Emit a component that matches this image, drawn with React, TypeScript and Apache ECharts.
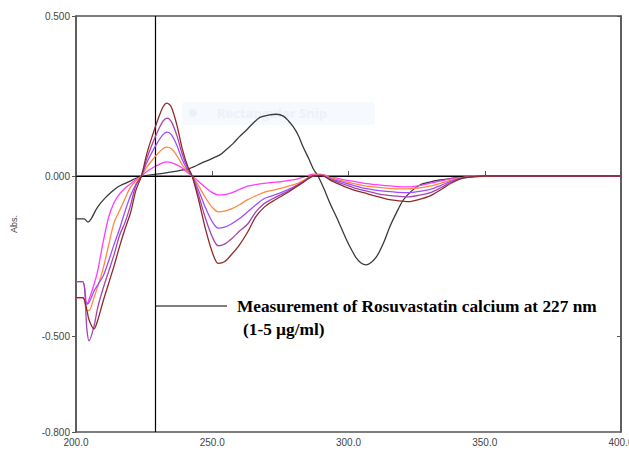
import React, { useEffect, useRef } from "react";
import * as echarts from "echarts";

// Wavelength grid (nm) for the five concentration curves
const wavelengths = [200, 202.5, 204, 204.8, 206.6, 208, 210, 212, 214, 216, 218, 220, 222, 224,
  226, 228, 230, 232, 233.4, 235, 237, 239, 241, 242.6, 245, 247.5, 250, 252.2,
  254.5, 257, 260, 263, 266, 269, 272, 275, 278, 281, 284, 287, 290,
  294, 298, 302, 306, 310, 314, 318, 322, 326, 330, 334, 338, 342, 346, 350,
  360, 370, 380, 390, 400];

const conc1 = [-0.38, -0.38, -0.40, -0.385, -0.34, -0.294, -0.205, -0.128, -0.083, -0.056, -0.038, -0.024, -0.011, 0,
  0.014, 0.025, 0.034, 0.042, 0.044, 0.042, 0.035, 0.025, 0.01, 0, -0.017, -0.036, -0.052, -0.059,
  -0.058, -0.053, -0.042, -0.032, -0.027, -0.023, -0.02, -0.018, -0.014, -0.01, -0.002, 0.006, 0.005,
  -0.003, -0.011, -0.017, -0.023, -0.027, -0.03, -0.033, -0.034, -0.03, -0.022, -0.015, -0.008, -0.003, -0.001, 0,
  0.001, -0.001, 0, 0, 0];

const conc2 = [-0.38, -0.38, -0.42, -0.42, -0.38, -0.345, -0.288, -0.215, -0.145, -0.108, -0.07, -0.035, -0.015, 0,
  0.028, 0.05, 0.07, 0.086, 0.09, 0.085, 0.064, 0.035, 0.013, 0, -0.031, -0.068, -0.098, -0.112,
  -0.11, -0.103, -0.09, -0.074, -0.062, -0.051, -0.045, -0.039, -0.032, -0.024, -0.011, 0.003, 0.004,
  -0.007, -0.016, -0.024, -0.031, -0.035, -0.038, -0.04, -0.04, -0.037, -0.032, -0.022, -0.012, -0.004, -0.001, 0,
  0, 0, 0, 0, 0];

const conc3 = [-0.33, -0.33, -0.40, -0.395, -0.36, -0.34, -0.312, -0.265, -0.213, -0.165, -0.11, -0.062, -0.026, 0,
  0.042, 0.076, 0.106, 0.13, 0.137, 0.129, 0.096, 0.051, 0.018, 0, -0.045, -0.099, -0.143, -0.163,
  -0.16, -0.15, -0.133, -0.112, -0.09, -0.071, -0.062, -0.053, -0.042, -0.029, -0.014, 0.001, 0.003,
  -0.01, -0.02, -0.03, -0.039, -0.044, -0.048, -0.051, -0.052, -0.048, -0.042, -0.029, -0.015, -0.005, -0.001, 0,
  0, 0, 0, 0, 0];

const conc4 = [-0.33, -0.33, -0.48, -0.515, -0.47, -0.41, -0.35, -0.298, -0.245, -0.185, -0.145, -0.092, -0.028, 0,
  0.055, 0.1, 0.14, 0.172, 0.181, 0.17, 0.127, 0.068, 0.024, 0, -0.06, -0.132, -0.19, -0.218,
  -0.213, -0.197, -0.172, -0.15, -0.112, -0.087, -0.072, -0.059, -0.046, -0.031, -0.015, 0, 0.002,
  -0.013, -0.025, -0.037, -0.046, -0.054, -0.06, -0.063, -0.065, -0.06, -0.052, -0.036, -0.018, -0.006, -0.002, 0,
  0, 0, 0, 0, 0];

const conc5 = [-0.38, -0.38, -0.42, -0.45, -0.478, -0.45, -0.39, -0.335, -0.28, -0.22, -0.165, -0.115, -0.044, 0,
  0.07, 0.125, 0.175, 0.217, 0.228, 0.215, 0.16, 0.085, 0.03, 0, -0.075, -0.165, -0.238, -0.273,
  -0.268, -0.246, -0.215, -0.175, -0.127, -0.098, -0.08, -0.065, -0.05, -0.033, -0.016, 0, 0.001,
  -0.016, -0.031, -0.044, -0.053, -0.063, -0.072, -0.077, -0.08, -0.073, -0.062, -0.042, -0.021, -0.007, -0.002, 0,
  0, 0, 0, 0, 0];

// Black reference spectrum
const blackWl = [200, 203, 204.4, 205.5, 207.3, 209, 211, 213, 214.7, 216.5, 218.3, 220, 222, 224.5,
  228, 233, 238, 241.8, 246, 249.5, 252.8, 255.2, 257.7, 260, 262.6, 265, 267.5, 270.5, 273.6, 276.1,
  278, 279.7, 281.5, 283.4, 285.3, 287.1, 288.8, 291, 293.2, 296.2, 299.3, 301.2, 302.9, 304.6, 306.4,
  308.3, 310.3, 312.8, 315.2, 317.7, 320.1, 323, 326.2, 329.8, 333.6, 337.3, 341, 346, 350, 360, 370, 380, 390, 400];
const blackVals = [-0.134, -0.134, -0.144, -0.135, -0.106, -0.085, -0.066, -0.05, -0.038, -0.029, -0.022, -0.015, -0.007, 0,
  0.004, 0.01, 0.017, 0.024, 0.04, 0.053, 0.066, 0.083, 0.102, 0.123, 0.144, 0.165, 0.183, 0.19, 0.193, 0.187,
  0.172, 0.154, 0.128, 0.09, 0.056, 0.022, 0, -0.04, -0.085, -0.14, -0.2, -0.232, -0.257, -0.272, -0.278,
  -0.27, -0.252, -0.21, -0.158, -0.113, -0.075, -0.048, -0.028, -0.019, -0.0125, -0.008, -0.004, -0.002, -0.001, 0, 0, 0, 0, 0];

const yTicks = [0.5, 0, -0.5, -0.8];
const markWavelength = 229;
const seriesColors = ["#ff3cff", "#ff8a3c", "#9d4dff", "#a444b4", "#8e2a2a"];
const concSeries = [conc1, conc2, conc3, conc4, conc5];

const zip = (xs: number[], ys: number[]) => xs.map((x, i) => [x, ys[i]]);

export default function App() {
  const ref = useRef<HTMLDivElement>(null);
  useEffect(() => {
    if (!ref.current) return;
    const chart = echarts.init(ref.current, null, { renderer: "svg" });
    const axisColor = "#555";
    const labelFont = "'Liberation Sans', Arial, sans-serif";
    const serifFont = "'Liberation Serif', 'Times New Roman', serif";
    const option: any = {
      animation: false,
      backgroundColor: "#ffffff",
      grid: {
        left: 76, right: 8, top: 16, bottom: 21,
        outerBoundsMode: "none", containLabel: false,
        show: true, borderColor: axisColor, borderWidth: 1.5,
      },
      xAxis: {
        type: "value", min: 200, max: 400, interval: 50,
        axisLine: { show: true, lineStyle: { color: axisColor, width: 1.5 } },
        axisTick: { show: true, inside: true, length: 5, lineStyle: { color: axisColor } },
        axisLabel: { formatter: (v: number) => v.toFixed(1), fontSize: 10, color: "#444", margin: 5, fontFamily: labelFont },
        splitLine: { show: false },
        name: "nm", nameLocation: "middle", nameGap: 20,
        nameTextStyle: { fontSize: 8, color: "#444", fontFamily: labelFont },
      },
      yAxis: [
        {
          type: "value", min: -0.8, max: 0.5,
          axisLine: { show: true, lineStyle: { color: axisColor, width: 1.5 } },
          axisTick: { show: true, length: 4, customValues: yTicks, lineStyle: { color: axisColor } },
          axisLabel: { customValues: yTicks, formatter: (v: number) => v.toFixed(3), fontSize: 10, color: "#444", margin: 6, fontFamily: labelFont },
          splitLine: { show: false },
          name: "Abs.", nameLocation: "middle", nameGap: 58, nameRotate: 90,
          nameTextStyle: { fontSize: 9, color: "#444", fontFamily: labelFont },
        },
        {
          type: "value", min: -0.8, max: 0.5, position: "right",
          axisLine: { show: true, lineStyle: { color: axisColor, width: 1.5 } },
          axisTick: { show: true, inside: true, length: 4, customValues: [0.5, 0, -0.5], lineStyle: { color: axisColor } },
          axisLabel: { show: false },
          splitLine: { show: false },
        },
      ],
      graphic: [
        { type: "rect", z: 0, shape: { x: 182, y: 102, width: 193, height: 23, r: 3 }, style: { fill: "#f6f9fe" } },
        { type: "circle", z: 0, shape: { cx: 193, cy: 113, r: 4 }, style: { fill: "#edf1f7" } },
        { type: "text", z: 0, x: 217, y: 113, style: { text: "Rectangular Snip", fontSize: 13, fontWeight: "bold", fill: "#eef1f6", verticalAlign: "middle", fontFamily: "'Open Sans', sans-serif" } },
        { type: "line", z: 10, shape: { x1: 155, y1: 306, x2: 227, y2: 306 }, style: { stroke: "#000", lineWidth: 1 } },
        { type: "text", z: 10, x: 237, y: 306, style: { text: "Measurement of Rosuvastatin calcium at 227 nm", fontSize: 17.3, fontWeight: "bold", fill: "#000", verticalAlign: "middle", fontFamily: serifFont } },
        { type: "text", z: 10, x: 243, y: 329, style: { text: "(1-5 µg/ml)", fontSize: 17.3, fontWeight: "bold", fill: "#000", verticalAlign: "middle", fontFamily: serifFont } },
      ],
      series: [
        {
          type: "line", name: "blank", data: zip(blackWl, blackVals), showSymbol: false, smooth: 0.3,
          lineStyle: { color: "#3a3a3a", width: 1.3 }, z: 3,
          markLine: {
            silent: true, symbol: ["none", "none"], label: { show: false },
            lineStyle: { color: "#000", width: 1.2, type: "solid" },
            data: [{ xAxis: markWavelength }, { yAxis: 0 }],
          },
        },
        ...concSeries.map((vals, i) => ({
          type: "line", name: `${i + 1} µg/ml`, data: zip(wavelengths, vals), showSymbol: false, smooth: 0.3,
          lineStyle: { color: seriesColors[i], width: 1.3 }, z: 4 + i,
        })),
      ],
    };
    chart.setOption(option);
    return () => chart.dispose();
  }, []);
  return <div ref={ref} style={{ position: "fixed", left: 0, top: 0, width: 629, height: 453, background: "#fff" }} />;
}
